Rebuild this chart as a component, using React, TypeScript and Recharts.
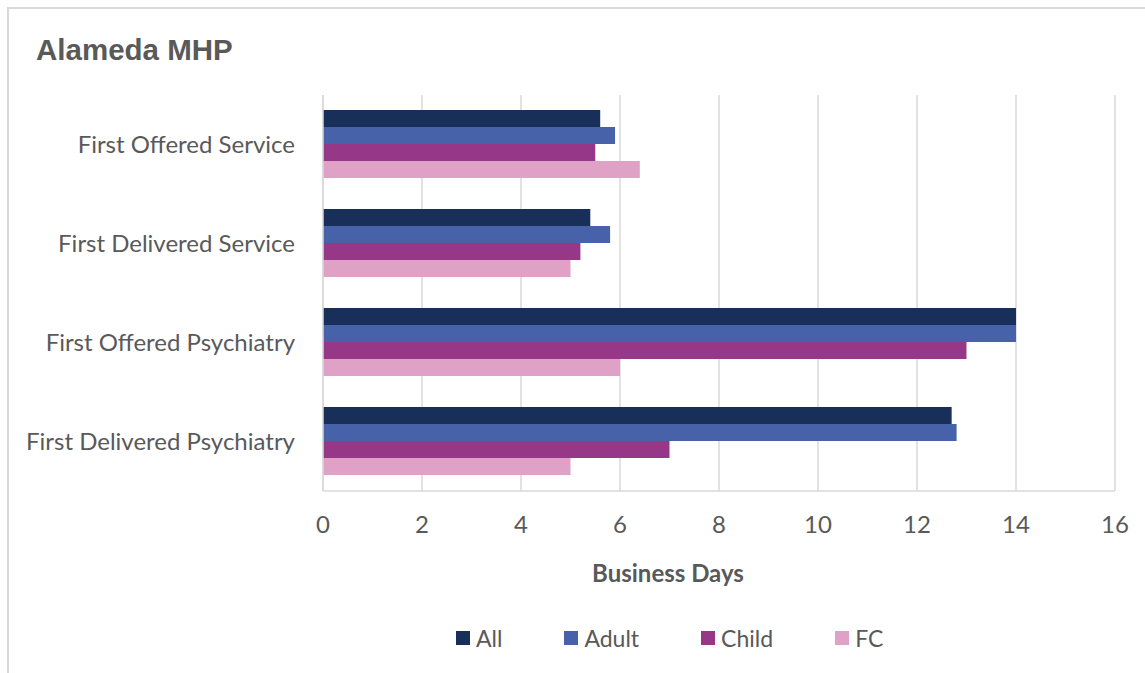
import React from 'react';
import { BarChart, Bar, XAxis, YAxis, CartesianGrid } from 'recharts';

const categories = [
  'First Offered Service',
  'First Delivered Service',
  'First Offered Psychiatry',
  'First Delivered Psychiatry',
];
const allValues = [5.6, 5.4, 14, 12.7];
const adultValues = [5.9, 5.8, 14, 12.8];
const childValues = [5.5, 5.2, 13, 7];
const fcValues = [6.4, 5, 6, 5];
const xTicks = [0, 2, 4, 6, 8, 10, 12, 14, 16];

const seriesNames = ['All', 'Adult', 'Child', 'FC'];
const seriesKeys = ['all', 'adult', 'child', 'fc'];
const seriesColors = ['#183059', '#4862AA', '#963788', '#E0A1C7'];

const data = categories.map((name, i) => ({
  name,
  all: allValues[i],
  adult: adultValues[i],
  child: childValues[i],
  fc: fcValues[i],
}));

const FONT = 'Lato, "Open Sans", sans-serif';
const TEXT = '#595959';

export default function App() {
  return (
    <div style={{ position: 'absolute', left: 0, top: 0, width: 1145, height: 673, background: '#fff', overflow: 'hidden' }}>
      <div style={{ position: 'absolute', left: 7, top: 7, width: 1200, height: 800, borderLeft: '2px solid #d9d9d9', borderTop: '2px solid #d9d9d9' }} />
      <div style={{ position: 'absolute', left: 36, top: 33, fontFamily: '"Liberation Sans", Arial, sans-serif', fontWeight: 'bold', fontSize: 29.5, color: TEXT }}>
        Alameda MHP
      </div>
      <div style={{ position: 'absolute', left: 0, top: 0 }}>
        <BarChart
          width={1145}
          height={673}
          data={data}
          layout="vertical"
          margin={{ top: 95, right: 30, bottom: 82, left: 0 }}
          barCategoryGap={15}
          barGap={0}
        >
          <CartesianGrid horizontal={false} stroke="#d9d9d9" strokeWidth={1.5} />
          <XAxis
            type="number"
            domain={[0, 16]}
            ticks={xTicks}
            interval={0}
            height={100}
            tickLine={false}
            tickSize={0}
            tickMargin={25}
            axisLine={{ stroke: '#d9d9d9', strokeWidth: 1.5 }}
            tick={{ fill: TEXT, fontSize: 24, fontFamily: FONT }}
            label={(props: any) => {
              const vb = props.viewBox;
              return (
                <text
                  x={vb.x + vb.width / 2 - 51}
                  y={vb.y + 91}
                  textAnchor="middle"
                  fill={TEXT}
                  fontFamily={FONT}
                  fontWeight="bold"
                  fontSize={24}
                >
                  Business Days
                </text>
              );
            }}
          />
          <YAxis
            type="category"
            dataKey="name"
            width={323}
            tickLine={false}
            tickSize={0}
            tickMargin={28}
            axisLine={{ stroke: '#d9d9d9', strokeWidth: 1.5 }}
            tick={{ fill: TEXT, fontSize: 24, fontFamily: FONT }}
          />
          {seriesKeys.map((k, i) => (
            <Bar key={k} dataKey={k} name={seriesNames[i]} fill={seriesColors[i]} isAnimationActive={false} />
          ))}
        </BarChart>
      </div>
      <div style={{ position: 'absolute', left: 456, top: 624, display: 'flex', gap: 62, alignItems: 'center', fontFamily: FONT, fontSize: 23, color: TEXT }}>
        {seriesNames.map((n, i) => (
          <div key={n} style={{ display: 'flex', alignItems: 'center' }}>
            <div style={{ width: 14, height: 14, background: seriesColors[i], marginRight: 6 }} />
            <span>{n}</span>
          </div>
        ))}
      </div>
    </div>
  );
}
